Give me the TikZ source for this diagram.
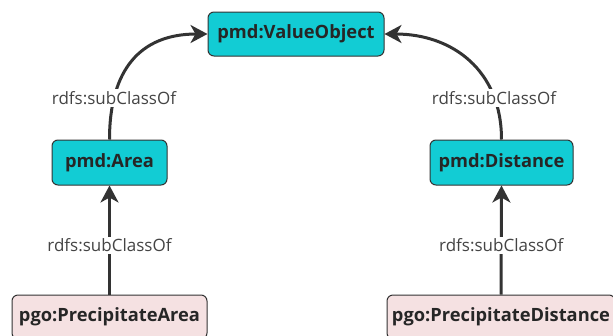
\documentclass[tikz,border=0pt]{standalone}
\usepackage{fontspec}
\setmainfont{Open Sans}
\usetikzlibrary{arrows.meta}
\definecolor{cls}{HTML}{12CCD4}
\definecolor{inst}{HTML}{F5E1E2}
\definecolor{edge}{HTML}{333333}
\definecolor{lbl}{HTML}{444444}
\tikzset{
  box/.style={draw=edge, line width=1pt, rounded corners=6pt, inner sep=0pt,
    minimum height=44pt, font=\fontsize{18.3}{21}\selectfont\bfseries, text=black!85},
  clsbox/.style={box, fill=cls},
  instbox/.style={box, fill=inst},
  rel/.style={draw=edge, line width=3pt, -{Stealth[length=17pt,width=18pt,inset=5pt]}},
  rellbl/.style={fill=white, inner sep=2pt, font=\fontsize{17}{20}\selectfont, text=lbl}
}
\begin{document}
\begin{tikzpicture}[x=1pt,y=-1pt]
\useasboundingbox (0,0) rectangle (613,335);
\node[clsbox, minimum width=176pt] (vo) at (296,34) {pmd:ValueObject};
\node[clsbox, minimum width=115pt, minimum height=45pt] (ar) at (109.5,162.5) {pmd:Area};
\node[clsbox, minimum width=143pt, minimum height=45pt] (di) at (501.5,162.5) {pmd:Distance};
\node[instbox, minimum width=195pt] (pa) at (109.5,317) {pgo:PrecipitateArea};
\node[instbox, minimum width=228pt] (pd) at (501,317) {pgo:PrecipitateDistance};

\draw[rel] (ar.north) .. controls (109.5,70) and (140,34) .. (vo.west);
\draw[rel] (di.north) .. controls (501.5,70) and (452,34) .. (vo.east);
\node[rellbl] (l1) at (114,98) {rdfs:subClassOf};
\node[rellbl] (l2) at (494,98) {rdfs:subClassOf};

\draw[rel] (pa.north) -- node[rellbl, pos=0.45] (l3) {rdfs:subClassOf} (ar.south);
\draw[rel] (pd.north) -- node[rellbl, pos=0.45] (l4) {rdfs:subClassOf} (di.south);
\end{tikzpicture}
\end{document}
